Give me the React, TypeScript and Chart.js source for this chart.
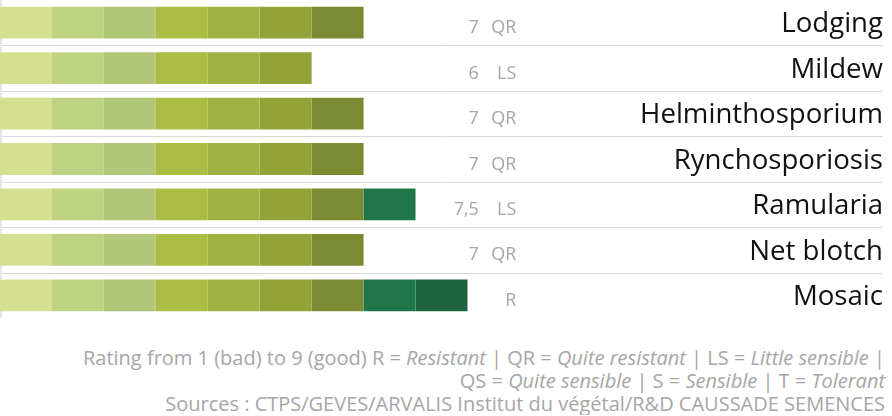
import React, { useEffect, useRef } from "react";
import { Chart, registerables } from "chart.js";

Chart.register(...registerables);

const categories = ["Lodging", "Mildew", "Helminthosporium", "Rynchosporiosis", "Ramularia", "Net blotch", "Mosaic"];
const filledSegments = [7, 6, 7, 7, 8, 7, 9];
const scoreLabels = ["7", "6", "7", "7", "7,5", "7", ""];
const ratingCodes = ["QR", "LS", "QR", "QR", "LS", "QR", "R"];
const segmentColors = ["#d4df8f", "#bed382", "#b1c677", "#acbd44", "#a0b243", "#93a337", "#7b8b32", "#1f7648", "#1d633d"];

const FONT = "'Open Sans', 'Noto Sans', sans-serif";

const labelPlugin = {
  id: "rowLabels",
  beforeDatasetsDraw(chart: any) {
    const { ctx, chartArea, scales } = chart;
    const y = scales.y;
    ctx.save();
    ctx.strokeStyle = "#d9d9d9";
    ctx.lineWidth = 1;
    for (let i = 0; i < categories.length - 1; i++) {
      const py = Math.round((y.getPixelForValue(i) + y.getPixelForValue(i + 1)) / 2) + 0.5;
      ctx.beginPath();
      ctx.moveTo(chartArea.left, py);
      ctx.lineTo(chartArea.right, py);
      ctx.stroke();
    }
    ctx.strokeStyle = "#e6e6e6";
    ctx.lineWidth = 2;
    ctx.beginPath();
    ctx.moveTo(chartArea.left + 1, chartArea.top);
    ctx.lineTo(chartArea.left + 1, chartArea.bottom);
    ctx.stroke();
    ctx.restore();
  },
  afterDatasetsDraw(chart: any) {
    const { ctx, chartArea, scales } = chart;
    const y = scales.y;
    const x = scales.x;
    ctx.save();
    ctx.textBaseline = "alphabetic";
    categories.forEach((name, i) => {
      const py = y.getPixelForValue(i);
      ctx.font = `18px ${FONT}`;
      ctx.fillStyle = "#a6a6a6";
      ctx.textAlign = "right";
      ctx.fillText(scoreLabels[i], x.getPixelForValue(9.22), py + 10.5);
      ctx.fillText(ratingCodes[i], x.getPixelForValue(9.94), py + 10.5);
      ctx.font = `27.6px ${FONT}`;
      ctx.fillStyle = "#111111";
      ctx.fillText(name, chartArea.right, py + 9.7);
    });
    ctx.restore();
  },
};

export default function App() {
  const ref = useRef<HTMLCanvasElement>(null);
  useEffect(() => {
    document.body.style.margin = "0";
    const chart = new Chart(ref.current!, {
      type: "bar",
      data: {
        labels: categories,
        datasets: segmentColors.map((color, k) => ({
          label: `Level ${k + 1}`,
          data: filledSegments.map((n) => (n > k ? 1 : 0)),
          backgroundColor: color,
          borderWidth: 0,
          barPercentage: 0.7,
          categoryPercentage: 1,
        })),
      },
      options: {
        indexAxis: "y",
        animation: false,
        responsive: false,
        maintainAspectRatio: false,
        layout: { padding: { left: 0, right: 9, top: 0, bottom: 2 } },
        plugins: { legend: { display: false }, tooltip: { enabled: false } },
        scales: {
          x: { stacked: true, min: 0, max: 17, display: false },
          y: { stacked: true, display: false },
        },
      },
      plugins: [labelPlugin],
    });
    return () => chart.destroy();
  }, []);

  const grey = "#a6a6a6";
  return (
    <div style={{ width: 892, fontFamily: FONT }}>
      <canvas ref={ref} width={892} height={320} style={{ display: "block" }} />
      <div style={{ marginTop: 26, paddingRight: 7, textAlign: "right", color: grey, fontSize: 20, lineHeight: "23px", whiteSpace: "nowrap" }}>
        <div>
          Rating from 1 (bad) to 9 (good) R = <i>Resistant</i> | QR = <i>Quite resistant</i> | LS = <i>Little sensible</i> |
        </div>
        <div>
          QS = <i>Quite sensible</i> | S = <i>Sensible</i> | T = <i>Tolerant</i>
        </div>
        <div>Sources : CTPS/GEVES/ARVALIS Institut du végétal/R&amp;D CAUSSADE SEMENCES</div>
      </div>
    </div>
  );
}
